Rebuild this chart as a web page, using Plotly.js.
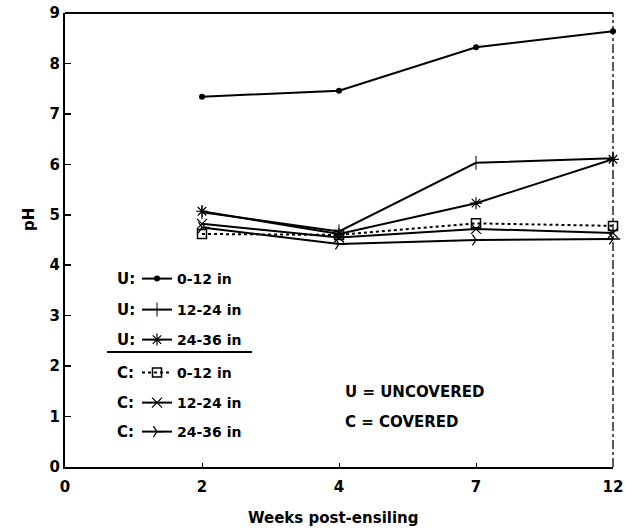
<!DOCTYPE html>
<html>
<head>
<meta charset="utf-8">
<script src="https://cdn.plot.ly/plotly-3.0.1.min.js"></script>
<style>html,body{margin:0;padding:0;background:#fff;}#chart{width:625px;height:532px;}</style>
</head>
<body>
<div id="chart"></div>
<script>
// x categories (weeks post-ensiling)
const weekLabels = ["0", "2", "4", "7", "12"];
const weeks = ["2", "4", "7", "12"];
// pH values
const u_0_12  = [7.34, 7.46, 8.32, 8.64];
const u_12_24 = [5.05, 4.67, 6.03, 6.12];
const u_24_36 = [5.07, 4.62, 5.23, 6.10];
const c_0_12  = [4.62, 4.60, 4.83, 4.78];
const c_12_24 = [4.82, 4.55, 4.72, 4.64];
const c_24_36 = [4.75, 4.42, 4.50, 4.52];
const seriesNames = ["0-12 in", "12-24 in", "24-36 in", "0-12 in", "12-24 in", "24-36 in"];
const groupLabels = ["U:", "U:", "U:", "C:", "C:", "C:"];
const yTicks = [0,1,2,3,4,5,6,7,8,9];

const FONT = "DejaVu Sans, Liberation Sans, Arial, sans-serif";
const black = "#000";

function mk(y, name, leg, sym, size, dash, mlw) {
  return {
    x: weeks, y: y, name: name, legend: leg, type: "scatter", mode: "lines+markers",
    line: {color: black, width: 2, dash: dash},
    marker: {symbol: sym, size: size, color: black, line: {color: black, width: mlw}},
    cliponaxis: false, hoverinfo: "skip"
  };
}

const traces = [
  mk(u_0_12, seriesNames[0], "legend", "circle", 6, "solid", 0),
  mk(u_12_24, seriesNames[1], "legend2", "line-ns", 10, "solid", 1),
  mk(u_24_36, seriesNames[2], "legend3", "asterisk-open", 10, "solid", 1.2),
  mk(c_0_12, seriesNames[3], "legend4", "square-open", 9, "dot", 1.5),
  mk(c_12_24, seriesNames[4], "legend5", "x-thin-open", 10, "solid", 1.3),
  mk(c_24_36, seriesNames[5], "legend6", "y-right-open", 9, "solid", 1.3)
];

const L = 65, R = 613, T = 13, B = 467;
const px = v => (v - L) / (R - L);
const py = v => (B - v) / (B - T);
const rows = [279, 310, 340, 373, 403, 432];

function legendAt(row) {
  return {x: px(137), y: py(row), xanchor: "left", yanchor: "middle",
          bgcolor: "rgba(0,0,0,0)", borderwidth: 0, itemwidth: 30,
          font: {family: FONT, size: 14, color: black, weight: "bold"}};
}

const annotations = [];
groupLabels.forEach((g, i) => {
  annotations.push({xref: "paper", yref: "paper", x: px(115), y: py(rows[i]),
    xanchor: "left", yanchor: "middle", text: "<b>" + g + "</b>", showarrow: false,
    font: {family: FONT, size: 15, color: black}});
});
annotations.push({xref: "paper", yref: "paper", x: px(343), y: py(392), xanchor: "left", yanchor: "middle",
  text: "<b>U = UNCOVERED</b>", showarrow: false, font: {family: FONT, size: 15, color: black}});
annotations.push({xref: "paper", yref: "paper", x: px(343), y: py(422), xanchor: "left", yanchor: "middle",
  text: "<b>C = COVERED</b>", showarrow: false, font: {family: FONT, size: 15, color: black}});
annotations.push({xref: "paper", yref: "paper", x: px(333), y: py(518), xanchor: "center", yanchor: "middle",
  text: "<b>Weeks post-ensiling</b>", showarrow: false, font: {family: FONT, size: 15, color: black}});
annotations.push({xref: "paper", yref: "paper", x: px(29), y: py(220), xanchor: "center", yanchor: "middle",
  text: "<b>pH</b>", textangle: -90, showarrow: false, font: {family: FONT, size: 15, color: black}});

const layout = {
  width: 625, height: 532,
  margin: {l: L, r: 625 - R, t: T, b: 532 - B},
  paper_bgcolor: "#fff", plot_bgcolor: "#fff",
  font: {family: FONT, color: black},
  xaxis: {type: "category", categoryarray: weekLabels, categoryorder: "array",
          range: [0, 4], showgrid: false, zeroline: false, showline: true, linewidth: 2, linecolor: black,
          ticks: "inside", ticklen: 4, tickwidth: 1, tickcolor: black, ticklabelstandoff: 5,
          tickfont: {family: FONT, size: 15, color: black, weight: "bold"}, fixedrange: true},
  yaxis: {range: [0, 9], tickvals: yTicks, ticktext: yTicks.map(String),
          showgrid: false, zeroline: false, showline: true, linewidth: 2, linecolor: black,
          ticks: "inside", ticklen: 6, tickwidth: 1.5, tickcolor: black,
          tickfont: {family: FONT, size: 15, color: black, weight: "bold"}, fixedrange: true},
  showlegend: true,
  legend: legendAt(rows[0]), legend2: legendAt(rows[1]), legend3: legendAt(rows[2]),
  legend4: legendAt(rows[3]), legend5: legendAt(rows[4]), legend6: legendAt(rows[5]),
  shapes: [
    {type: "line", xref: "paper", yref: "paper", x0: 0, x1: 1, y0: 1, y1: 1, line: {color: black, width: 2}},
    {type: "line", xref: "paper", yref: "paper", x0: 1, x1: 1, y0: 0, y1: 1, line: {color: black, width: 1.3, dash: "dashdot"}},
    {type: "line", xref: "paper", yref: "paper", x0: px(107), x1: px(252), y0: py(352), y1: py(352), line: {color: black, width: 2}}
  ],
  annotations: annotations
};

Plotly.newPlot("chart", traces, layout, {displayModeBar: false, staticPlot: true});
</script>
</body>
</html>
